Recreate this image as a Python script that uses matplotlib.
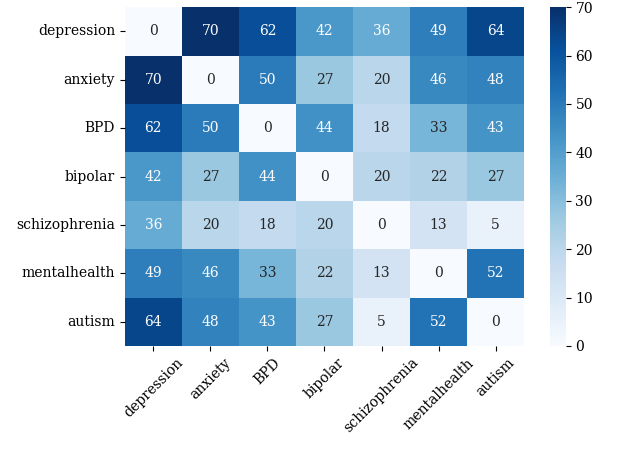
import numpy as np
import matplotlib
matplotlib.use("Agg")
import matplotlib.pyplot as plt
import seaborn as sns

labels = ["depression", "anxiety", "BPD", "bipolar", "schizophrenia", "mentalhealth", "autism"]

depression = [0, 70, 62, 42, 36, 49, 64]
anxiety = [70, 0, 50, 27, 20, 46, 48]
bpd = [62, 50, 0, 44, 18, 33, 43]
bipolar = [42, 27, 44, 0, 20, 22, 27]
schizophrenia = [36, 20, 18, 20, 0, 13, 5]
mentalhealth = [49, 46, 33, 22, 13, 0, 52]
autism = [64, 48, 43, 27, 5, 52, 0]

matrix = np.array([depression, anxiety, bpd, bipolar, schizophrenia, mentalhealth, autism])

plt.rcParams['font.family'] = ['DejaVu Serif']

fig = plt.figure(figsize=(6.4, 4.51), dpi=100)
ax = fig.add_axes([0.195, 0.233, 0.624, 0.751])
cax = fig.add_axes([0.859, 0.233, 0.025, 0.751])

sns.heatmap(matrix, annot=True, fmt="d", cmap="Blues", ax=ax, cbar_ax=cax,
            xticklabels=labels, yticklabels=labels)

ax.set_xticklabels(labels, rotation=45)
ax.set_yticklabels(labels, rotation=0)
cax.tick_params(labelsize=10)

fig.savefig("out.png", dpi=100)
